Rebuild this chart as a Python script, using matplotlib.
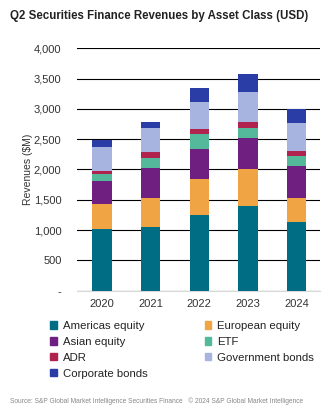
import matplotlib
matplotlib.use('Agg')
import matplotlib.pyplot as plt
from matplotlib.patches import Patch
import matplotlib.ticker as ticker
import numpy as np

plt.rcParams['font.family'] = ['Liberation Sans', 'DejaVu Sans']

years = ['2020', '2021', '2022', '2023', '2024']
categories = ['Americas equity', 'European equity', 'Asian equity', 'ETF',
              'ADR', 'Government bonds', 'Corporate bonds']
# revenues ($M) per asset class
americas = [1020, 1052, 1256, 1405, 1141]
european = [418, 485, 579, 595, 385]
asian = [375, 480, 507, 524, 535]
etf = [104, 165, 237, 154, 160]
adr = [56, 99, 82, 105, 82]
government = [396, 402, 452, 495, 469]
corporate = [111, 105, 226, 293, 231]
series = [americas, european, asian, etf, adr, government, corporate]
colors = ['#006D85', '#F0A444', '#6E1F80', '#53B99A', '#B0234F', '#A8B4E0', '#2A3CA6']

fig = plt.figure(figsize=(3.34, 4.2), dpi=100)
ax = fig.add_axes([0.23, 0.308, 0.728, 0.577])

x = np.arange(len(years))
bottom = np.zeros(len(years))
for vals, c, name in zip(series, colors, categories):
    ax.bar(x, vals, 0.4, bottom=bottom, color=c, label=name, zorder=3)
    bottom += np.array(vals)

ax.set_ylim(0, 4000)
ax.set_xlim(-0.52, 4.48)
ax.set_yticks(np.arange(0, 4001, 500))
ax.yaxis.set_major_formatter(ticker.FuncFormatter(lambda v, p: '-' if v == 0 else '{:,.0f}'.format(v)))
ax.set_xticks(x)
ax.set_xticklabels(years)
ax.grid(axis='y', color='black', linewidth=0.8, zorder=0)
for s in ['top', 'right', 'left']:
    ax.spines[s].set_visible(False)
ax.spines['bottom'].set_color('#d9d9d9')
ax.tick_params(axis='both', length=0, labelsize=8, colors='#333333')
ax.tick_params(axis='y', pad=11)
ax.tick_params(axis='x', pad=6)
ax.set_ylabel('Revenues ($M)', fontsize=7.5, color='#333333', labelpad=1)

fig.text(0.03, 0.962, 'Q2 Securities Finance Revenues by Asset Class (USD)',
         fontsize=8.3, fontweight='bold', color='#222222', va='center')

order = [0, 2, 4, 6, 1, 3, 5]
handles = [Patch(color=colors[i]) for i in order]
labels = [categories[i] for i in order]
fig.legend(handles, labels, ncol=2, loc='upper left', bbox_to_anchor=(0.12, 0.26),
           frameon=False, fontsize=8.2, handlelength=0.6, handleheight=0.6,
           handletextpad=0.5, labelspacing=0.52, columnspacing=5.0, labelcolor='#222222')

fig.text(0.03, 0.046, 'Source: S&P Global Market Intelligence Securities Finance   \u00a9 2024 S&P Global Market Intelligence',
         fontsize=4.8, color='#888888', va='center')

fig.savefig('out.png', dpi=100)
